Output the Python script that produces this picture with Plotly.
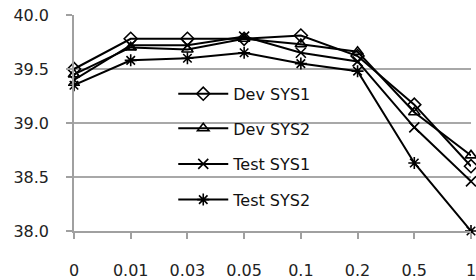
import plotly.graph_objects as go

categories = ["0", "0.01", "0.03", "0.05", "0.1", "0.2", "0.5", "1"]
dev_sys1 = [39.50, 39.78, 39.78, 39.78, 39.81, 39.62, 39.17, 38.60]
dev_sys2 = [39.45, 39.70, 39.68, 39.78, 39.73, 39.66, 39.10, 38.70]
test_sys1 = [39.40, 39.72, 39.72, 39.80, 39.65, 39.57, 38.96, 38.46]
test_sys2 = [39.35, 39.58, 39.60, 39.65, 39.55, 39.48, 38.63, 38.00]

series = [
    ("Dev SYS1", dev_sys1, "diamond-open", 10, "legend"),
    ("Dev SYS2", dev_sys2, "triangle-up-open", 10, "legend2"),
    ("Test SYS1", test_sys1, "x-thin-open", 10, "legend3"),
    ("Test SYS2", test_sys2, "asterisk-open", 10, "legend4"),
]

xs = list(range(len(categories)))
fig = go.Figure()
for name, vals, sym, size, lg in series:
    fig.add_trace(go.Scatter(
        x=xs, y=vals, name=name, mode="lines+markers",
        line=dict(color="black", width=2),
        marker=dict(symbol=sym, size=size, color="black",
                    line=dict(color="black", width=1.6)),
        cliponaxis=False, legend=lg,
    ))

fam = "DejaVu Sans, sans-serif"
font = dict(family=fam, size=16, color="#222")
leg_common = dict(x=0.25, xanchor="left", yanchor="middle",
                  bgcolor="rgba(0,0,0,0)", font=dict(family=fam, size=16, color="#111"),
                  itemwidth=50)
legend_y = [0.635, 0.475, 0.31, 0.145]
fig.update_layout(
    width=476, height=280,
    margin=dict(l=74, r=5, t=15, b=49),
    plot_bgcolor="white", paper_bgcolor="white",
    font=font,
    showlegend=True,
    legend=dict(y=legend_y[0], **leg_common),
    legend2=dict(y=legend_y[1], **leg_common),
    legend3=dict(y=legend_y[2], **leg_common),
    legend4=dict(y=legend_y[3], **leg_common),
    xaxis=dict(
        range=[0, 7], tickvals=xs, ticktext=categories,
        showgrid=False, zeroline=False, automargin=False,
        showline=True, linecolor="#a0a0a0", linewidth=1.5,
        ticks="outside", ticklen=6, tickcolor="#a0a0a0", tickwidth=1.5,
        ticklabelstandoff=18, ticklabeloverflow="allow",
    ),
    yaxis=dict(
        range=[38.0, 40.0], dtick=0.5, tickformat=".1f", automargin=False,
        showgrid=True, gridcolor="#a8a8a8", gridwidth=1.5,
        zeroline=False, showline=True, linecolor="#a0a0a0", linewidth=1.5,
        ticks="outside", ticklen=6, tickcolor="#a0a0a0", tickwidth=1.5,
        ticklabelstandoff=14,
    ),
)
fig.write_html("out.html", config={"displayModeBar": False},
               post_script="document.body.style.margin='0';document.body.style.overflow='hidden';")
